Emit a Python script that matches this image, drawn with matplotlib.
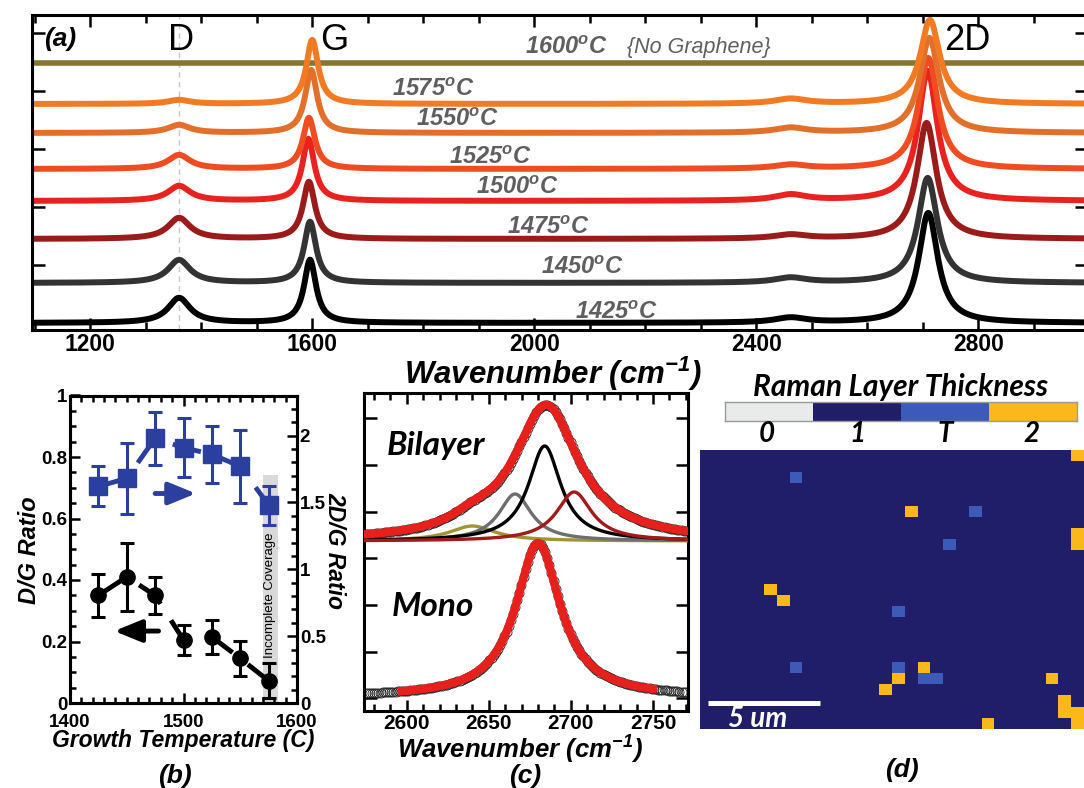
import numpy as np
import matplotlib
matplotlib.use("Agg")
import matplotlib.pyplot as plt
from matplotlib.colors import ListedColormap
from matplotlib.ticker import MultipleLocator, FixedLocator, FuncFormatter, NullFormatter

plt.rcParams['font.family'] = ['Liberation Sans', 'DejaVu Sans']
plt.rcParams['font.weight'] = 'bold'
plt.rcParams['mathtext.fontset'] = 'custom'
plt.rcParams['mathtext.rm'] = 'Liberation Sans:italic:bold'
plt.rcParams['mathtext.it'] = 'Liberation Sans:italic:bold'
plt.rcParams['mathtext.bf'] = 'Liberation Sans:italic:bold'

W, H = 1084, 788
CAL = ['Lato', 'DejaVu Sans']   # calibri-ish labels

# ---- panel (a): spectra by growth temperature (intensity in a.u.) ----
temps = [1425, 1450, 1475, 1500, 1525, 1550, 1575]
trace_colors = ['#000000', '#333333', '#9b1a1a', '#e8231f', '#f04c22', '#e3702a', '#f27a22']
offsets = [7, 47, 91, 129, 161, 197, 226]
d_amp = [25, 23, 21, 15, 14, 8, 4]
g_amp = [63, 61, 57, 62, 51, 63, 64]
g_pos = [1596, 1596, 1594, 1593, 1594, 1598, 1600]
d2_amp = [110, 105, 116, 130, 111, 95, 84]
d2_pos = [2710, 2709, 2707, 2709, 2710, 2712, 2713]
bump_amp = [5, 5, 4, 6, 4, 5, 5]
d_pos, bump_pos = 1360, 2462
d_fwhm, g_fwhm, d2_fwhm, bump_fwhm = 48, 26, 42, 70
no_graphene_level = 267

# ---- panel (b): peak ratios ----
dg = [0.35, 0.41, 0.35, 0.205, 0.215, 0.145, 0.072]
dg_err = [0.07, 0.11, 0.06, 0.05, 0.055, 0.057, 0.057]
tdg = [1.62, 1.68, 1.98, 1.91, 1.86, 1.77, 1.48]
tdg_err = [0.15, 0.265, 0.2, 0.22, 0.215, 0.275, 0.145]

# ---- panel (c): 2D band fits ----
comp_pos = [2640, 2666, 2684, 2702]
comp_amp = [15, 47, 95, 49]
comp_fwhm = [34, 24, 24, 26]
comp_colors = ['#a29433', '#6e6e6e', '#000000', '#a11b1b']
bil_base, comp_base = 170, 170
bil_peaks = [(2685, 135, 48), (2640, 10, 34)]
mono_base, mono_pos, mono_amp, mono_fwhm = 14, 2680, 154, 33

# ---- panel (d): layer map (0 none, 1 mono, 2 T, 3 bi) ----
map_rows, map_cols = 25, 30
t_cells = [(2, 7), (5, 21), (8, 19), (14, 15), (19, 7), (19, 15), (20, 17), (20, 18)]
bi_cells = [(5, 16), (12, 5), (13, 6), (19, 17), (20, 15), (21, 14), (20, 27), (24, 22),
            (22, 28), (23, 28), (23, 29), (24, 29), (7, 29), (8, 29), (0, 29)]
layer_names = ['0', '1', 'T', '2']
layer_colors = ['#e9ebeb', '#201e69', '#3c5ab9', '#fab919']


def lor(x, x0, a, fwhm):
    return a / (1 + ((x - x0) / (fwhm / 2)) ** 2)


def fx(px):
    return px / W


def fy(py):
    return 1 - py / H


def box(ax, lw=2.2):
    for s in ax.spines.values():
        s.set_linewidth(lw)


fig = plt.figure(figsize=(W / 100, H / 100), dpi=100)

# ================= (a) =================
ax = fig.add_axes([fx(32), fy(330), (1087 - 32) / W, 315 / H])
wn = np.linspace(1095, 3000, 3000)
ax.axvline(d_pos, color='#c8c8c8', lw=1, dashes=(4, 3), zorder=0)
ax.axhline(no_graphene_level, color='#857630', lw=4)
for i in range(len(temps)):
    y = (offsets[i] + lor(wn, d_pos, d_amp[i], d_fwhm) + lor(wn, g_pos[i], g_amp[i], g_fwhm)
         + lor(wn, d2_pos[i], d2_amp[i], d2_fwhm) + lor(wn, bump_pos, bump_amp[i], bump_fwhm))
    ax.plot(wn, y, color=trace_colors[i], lw=4.3)
ax.set_xlim(1095, 2996)
ax.set_ylim(0, 315)
ax.xaxis.set_major_locator(FixedLocator([1200, 1600, 2000, 2400, 2800]))
ax.xaxis.set_minor_locator(MultipleLocator(100))
ax.yaxis.set_major_locator(FixedLocator([7 + 58 * k for k in range(6)]))
ax.yaxis.set_major_formatter(NullFormatter())
ax.tick_params(which='both', direction='in', top=True, right=True, width=1.8, labelsize=16.5, pad=2)
ax.tick_params(axis='x', which='major', length=8.5)
ax.tick_params(axis='x', which='minor', length=6)
ax.tick_params(axis='y', length=9)
box(ax)

fig.text(fx(60), fy(39), '(a)', fontsize=19, style='italic', ha='center', va='center')
for s, cx in [('D', 181), ('G', 334), ('2D', 967)]:
    fig.text(fx(cx), fy(40), s, fontsize=26, fontweight='normal', ha='center', va='center')

label_xy = [(616, 312), (582, 268), (548, 227), (517, 188), (490, 157), (457, 120), (433, 90)]
for t, (cx, cy) in zip(temps, label_xy):
    fig.text(fx(cx), fy(cy), f'{t}$^o$C', color='#5f5f5f', fontsize=17, style='italic',
             ha='center', va='center')
fig.text(fx(566), fy(48), '1600$^o$C', color='#5f5f5f', fontsize=17, style='italic',
         ha='center', va='center')
fig.text(fx(627), fy(48), '{No Graphene}', color='#5f5f5f', fontsize=15.5, style='italic',
         fontweight='normal', ha='left', va='center')
fig.text(fx(553), fy(374), 'Wavenumber (cm$^{-1}$)', fontsize=22.5, style='italic',
         ha='center', va='center')

# ================= (b) =================
blue = '#2b3f9e'
axb = fig.add_axes([fx(70), fy(703), 227 / W, 307.5 / H])
axb.set_xlim(1400, 1600)
axb.set_ylim(0, 1)
axb2 = axb.twinx()
axb2.set_ylim(0, 2.3)
axb.axvspan(1570, 1583, ymax=0.74, color='#d9d9d9', lw=0, zorder=0)
axb.text(1576.3, 0.35, 'Incomplete Coverage', rotation=90, fontsize=9.5, fontweight='normal',
         ha='center', va='center')
axb.plot(temps, dg, color='k', lw=3.5, dashes=(6, 4))
axb.errorbar(temps, dg, yerr=dg_err, fmt='o', ms=11, color='k', elinewidth=2.2,
             capsize=5, capthick=2.2)
axb2.plot(temps, tdg, color=blue, lw=3.5, dashes=(6, 4))
axb2.errorbar(temps, tdg, yerr=tdg_err, fmt='s', ms=13, color=blue, elinewidth=2.2,
              capsize=5, capthick=2.2)
aprops = dict(arrowstyle='-|>,head_length=1.1,head_width=0.45', lw=3.5,
              shrinkA=0, shrinkB=0, mutation_scale=15)
axb.annotate('', xy=(1439, 0.234), xytext=(1478, 0.234), arrowprops=dict(color='k', **aprops))
axb2.annotate('', xy=(1511, 1.567), xytext=(1475, 1.567), arrowprops=dict(color=blue, **aprops))

axb.xaxis.set_major_locator(MultipleLocator(100))
axb.xaxis.set_minor_locator(MultipleLocator(10))
axb.yaxis.set_major_locator(MultipleLocator(0.2))
axb.yaxis.set_minor_locator(MultipleLocator(0.05))
axb2.yaxis.set_major_locator(MultipleLocator(0.5))
axb2.yaxis.set_minor_locator(MultipleLocator(0.1))
fmt = FuncFormatter(lambda v, p: f'{v:g}')
axb.yaxis.set_major_formatter(fmt)
axb2.yaxis.set_major_formatter(fmt)
for a in (axb, axb2):
    a.tick_params(which='both', direction='in', width=1.8, labelsize=13.5, pad=2)
    a.tick_params(which='major', length=7)
    a.tick_params(which='minor', length=4)
    box(a)
axb.tick_params(which='both', top=True, right=False)
axb.tick_params(axis='x', pad=8)
fig.text(fx(29), fy(550), 'D/G Ratio', rotation=90, fontsize=17, style='italic',
         ha='center', va='center')
fig.text(fx(335), fy(550), '2D/G Ratio', rotation=270, fontsize=16.5, style='italic',
         ha='center', va='center')
fig.text(fx(183), fy(741), 'Growth Temperature (C)', fontsize=16.5, style='italic',
         ha='center', va='center')
fig.text(fx(175), fy(776), '(b)', fontsize=19, style='italic', ha='center', va='center')

# ================= (c) =================
axc = fig.add_axes([fx(364), fy(711), 324 / W, 318 / H])
wc = np.linspace(2574, 2772, 1200)
for p, a_, w_, c in zip(comp_pos, comp_amp, comp_fwhm, comp_colors):
    axc.plot(wc, comp_base + lor(wc, p, a_, w_), color=c, lw=2.4, zorder=3)
bil = bil_base + sum(lor(wc, p, a_, w_) for p, a_, w_ in bil_peaks)
mono = mono_base + lor(wc, mono_pos, mono_amp, mono_fwhm)
xs = np.arange(2575, 2771, 1.3)
bil_pts = bil_base + sum(lor(xs, p, a_, w_) for p, a_, w_ in bil_peaks)
mono_pts = mono_base + lor(xs, mono_pos, mono_amp, mono_fwhm)
for pts in (bil_pts, mono_pts):
    axc.plot(xs, pts, 'o', ms=6.5, mfc='none', mec='#222222', mew=0.6, zorder=2)
axc.plot(wc, bil, color='#e8201c', lw=6, zorder=4)
mfit = (wc >= 2597) & (wc <= 2750)
axc.plot(wc[mfit], mono[mfit], color='#e8201c', lw=6, zorder=4)
axc.set_xlim(2574, 2771.3)
axc.set_ylim(0, 318)
axc.xaxis.set_major_locator(MultipleLocator(50))
axc.xaxis.set_minor_locator(MultipleLocator(10))
axc.yaxis.set_major_locator(FixedLocator([12.7 + 46.67 * k for k in range(7)]))
axc.yaxis.set_major_formatter(NullFormatter())
axc.tick_params(which='both', direction='in', top=True, right=True, width=1.8, labelsize=15, pad=2)
axc.tick_params(axis='x', which='major', length=8)
axc.tick_params(axis='x', which='minor', length=5)
axc.tick_params(axis='y', length=9)
box(axc)
fig.text(fx(436), fy(446), 'Bilayer', family=CAL, fontsize=24, style='italic', ha='center', va='center')
fig.text(fx(433), fy(607), 'Mono', family=CAL, fontsize=24, style='italic', ha='center', va='center')
fig.text(fx(520), fy(750), 'Wavenumber (cm$^{-1}$)', fontsize=18.5, style='italic',
         ha='center', va='center')
fig.text(fx(525), fy(776), '(c)', fontsize=19, style='italic', ha='center', va='center')

# ================= (d) =================
cmap = ListedColormap(layer_colors)
axcb = fig.add_axes([fx(725), fy(421), 352 / W, 19 / H])
axcb.imshow([[0, 1, 2, 3]], cmap=cmap, vmin=-0.5, vmax=3.5, aspect='auto')
axcb.set_xticks([])
axcb.set_yticks([])
for s in axcb.spines.values():
    s.set_color('#9a9a9a')
    s.set_linewidth(1)
fig.text(fx(901), fy(387), 'Raman Layer Thickness', family=CAL, fontsize=21.5, style='italic',
         ha='center', va='center')
for name, cx in zip(layer_names, [767, 857, 945, 1032]):
    fig.text(fx(cx), fy(434), name, family=CAL, fontsize=20, style='italic', ha='center', va='center')

grid = np.ones((map_rows, map_cols), dtype=int)
for r, c in t_cells:
    grid[r, c] = 2
for r, c in bi_cells:
    grid[r, c] = 3
axm = fig.add_axes([fx(700), fy(729), 384 / W, 279 / H])
axm.imshow(grid, cmap=cmap, vmin=-0.5, vmax=3.5, aspect='auto', interpolation='nearest',
           extent=(0, map_cols, map_rows, 0))
axm.set_xticks([])
axm.set_yticks([])
for s in axm.spines.values():
    s.set_visible(False)
axm.plot([0.6, 9.4], [22.7, 22.7], color='white', lw=3.6, solid_capstyle='butt')
axm.text(4.5, 24.1, '5 um', family=CAL, fontsize=20, style='italic', color='white',
         ha='center', va='center')
fig.text(fx(902), fy(770), '(d)', fontsize=19, style='italic', ha='center', va='center')

fig.savefig('out.png', dpi=100)
